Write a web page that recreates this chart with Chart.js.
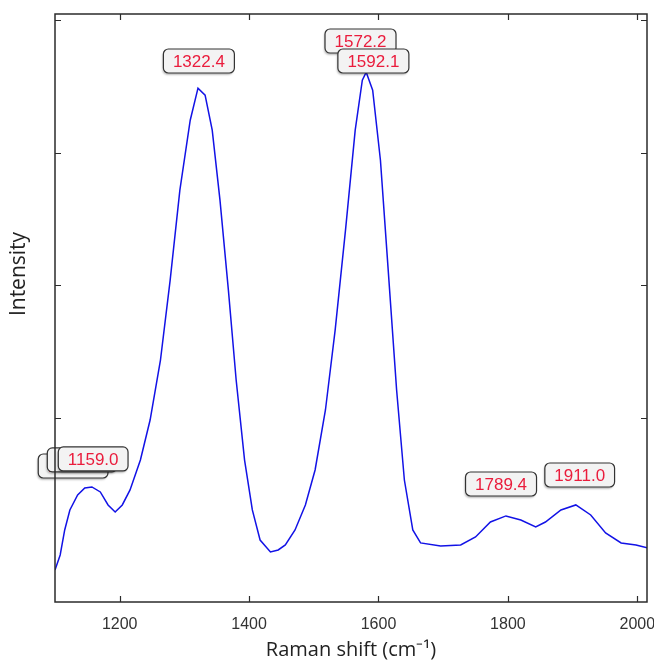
<!DOCTYPE html>
<html>
<head>
<meta charset="utf-8">
<script src="https://cdn.jsdelivr.net/npm/chart.js@4.4.0/dist/chart.umd.min.js"></script>
<style>
  html, body { margin: 0; padding: 0; background: #fff; }
  #wrap { width: 654px; height: 661px; }
</style>
</head>
<body>
<div id="wrap"><canvas id="ramanChart" width="654" height="661"></canvas></div>
<script>
// spectrum
var shift = [1100, 1108, 1115, 1123, 1135, 1146, 1157, 1170, 1182, 1193, 1204, 1216, 1232, 1247, 1263,
  1278, 1293, 1309, 1321, 1332, 1343, 1355, 1368, 1380, 1393, 1405, 1417, 1433, 1445, 1456,
  1471, 1487, 1502, 1518, 1533, 1549, 1564, 1575, 1581, 1591, 1603, 1615, 1628, 1640, 1653,
  1665, 1696, 1727, 1750, 1773, 1797, 1820, 1843, 1858, 1882, 1905, 1928, 1951, 1975, 1998, 2016];
var intensity = [-151, -38, 151, 302, 415, 468, 476, 438, 340, 287, 340, 453, 679, 981, 1434,
  2038, 2717, 3245, 3487, 3434, 3170, 2642, 1962, 1283, 679, 302, 75, -15, 0, 38,
  151, 340, 604, 1057, 1660, 2415, 3170, 3547, 3608, 3472, 2943, 2113, 1208, 528, 151,
  53, 30, 38, 98, 211, 257, 226, 174, 211, 302, 340, 264, 128, 53, 38, 15];

// peak markers
var peakShift = [1128.0, 1142.0, 1159.0, 1322.4, 1572.2, 1592.1, 1789.4, 1911.0];
var peakText = ["1128.0", "1142.0", "1159.0", "1322.4", "1572.2", "1592.1", "1789.4", "1911.0"];
var peakLevel = [634, 680, 687, 3692, 3843, 3692, 498, 566];

var xTicks = [1200, 1400, 1600, 1800, 2000];
var yTicks = [1000, 2000, 3000, 4000];

var points = shift.map(function (s, i) { return { x: s, y: intensity[i] }; });

// box around plot plus inward tick marks, y title
var framePlugin = {
  id: "frame",
  afterDraw: function (chart) {
    var ctx = chart.ctx;
    var a = chart.chartArea;
    var xs = chart.scales.x, ys = chart.scales.y;
    ctx.save();
    ctx.strokeStyle = "#2b2b2b";
    ctx.lineWidth = 1.5;
    ctx.strokeRect(a.left, a.top, a.right - a.left, a.bottom - a.top);
    ctx.lineWidth = 1.2;
    ctx.beginPath();
    xTicks.forEach(function (t) {
      var px = Math.round(xs.getPixelForValue(t)) + 0.5;
      ctx.moveTo(px, a.bottom); ctx.lineTo(px, a.bottom - 6);
      ctx.moveTo(px, a.top); ctx.lineTo(px, a.top + 6);
    });
    yTicks.forEach(function (t) {
      var py = Math.round(ys.getPixelForValue(t)) + 0.5;
      ctx.moveTo(a.left, py); ctx.lineTo(a.left + 6, py);
      ctx.moveTo(a.right, py); ctx.lineTo(a.right - 6, py);
    });
    ctx.stroke();

    // y axis title, sits a bit above the middle like the original
    ctx.translate(19, 274);
    ctx.rotate(-Math.PI / 2);
    ctx.font = "21px 'Open Sans', sans-serif";
    ctx.fillStyle = "#222";
    ctx.textAlign = "center";
    ctx.textBaseline = "middle";
    ctx.fillText("Intensity", 0, 0);
    ctx.restore();
  }
};

// rounded label boxes at the peaks
var peakLabelPlugin = {
  id: "peakLabels",
  afterDatasetsDraw: function (chart) {
    var ctx = chart.ctx;
    var xs = chart.scales.x, ys = chart.scales.y;
    ctx.save();
    ctx.font = "17px 'Liberation Sans', Arial, sans-serif";
    ctx.textAlign = "center";
    ctx.textBaseline = "middle";
    for (var i = 0; i < peakShift.length; i++) {
      var cx = xs.getPixelForValue(peakShift[i]);
      var cy = ys.getPixelForValue(peakLevel[i]);
      var w = ctx.measureText(peakText[i]).width + 19;
      var h = 24;
      ctx.beginPath();
      ctx.roundRect(cx - w / 2, cy - h / 2, w, h, 5);
      ctx.shadowColor = "rgba(0,0,0,0.25)";
      ctx.shadowOffsetX = -1;
      ctx.shadowOffsetY = 2;
      ctx.shadowBlur = 2;
      ctx.fillStyle = "#f3f3f3";
      ctx.fill();
      ctx.shadowColor = "transparent";
      ctx.strokeStyle = "#333";
      ctx.lineWidth = 1.2;
      ctx.stroke();
      ctx.fillStyle = "#ea1c3c";
      ctx.fillText(peakText[i], cx, cy + 1);
    }
    ctx.restore();
  }
};

var ctx = document.getElementById("ramanChart").getContext("2d");
var ramanChart = new Chart(ctx, {
  type: "line",
  data: {
    datasets: [{
      data: points,
      borderColor: "#1212e6",
      borderWidth: 1.5,
      pointRadius: 0,
      tension: 0,
      fill: false
    }]
  },
  options: {
    responsive: false,
    animation: false,
    devicePixelRatio: 1,
    layout: { padding: { top: 14, right: 7, bottom: 0, left: 0 } },
    plugins: { legend: { display: false }, tooltip: { enabled: false } },
    scales: {
      x: {
        type: "linear",
        min: 1100,
        max: 2015,
        afterBuildTicks: function (axis) {
          axis.ticks = xTicks.map(function (v) { return { value: v }; });
        },
        afterFit: function (axis) {
          axis.height = 59;
          axis.paddingLeft = 0;
          axis.paddingRight = 0;
        },
        grid: { display: false, drawTicks: false },
        border: { display: false },
        ticks: {
          padding: 13,
          color: "#333",
          maxRotation: 0,
          font: { family: "'Liberation Sans', Arial, sans-serif", size: 16 },
          callback: function (v) { return String(v); }
        },
        title: {
          display: true,
          text: "Raman shift (cm\u207B\u00B9)",
          color: "#222",
          padding: { top: 0, bottom: 0 },
          font: { family: "'Open Sans', sans-serif", size: 20, lineHeight: 1.1 }
        }
      },
      y: {
        type: "linear",
        min: -393,
        max: 4047,
        afterBuildTicks: function (axis) {
          axis.ticks = yTicks.map(function (v) { return { value: v }; });
        },
        afterFit: function (axis) {
          axis.width = 55;
          axis.paddingTop = 0;
          axis.paddingBottom = 0;
        },
        grid: { display: false, drawTicks: false },
        border: { display: false },
        ticks: { display: false },
        title: { display: false }
      }
    }
  },
  plugins: [framePlugin, peakLabelPlugin]
});
</script>
</body>
</html>
